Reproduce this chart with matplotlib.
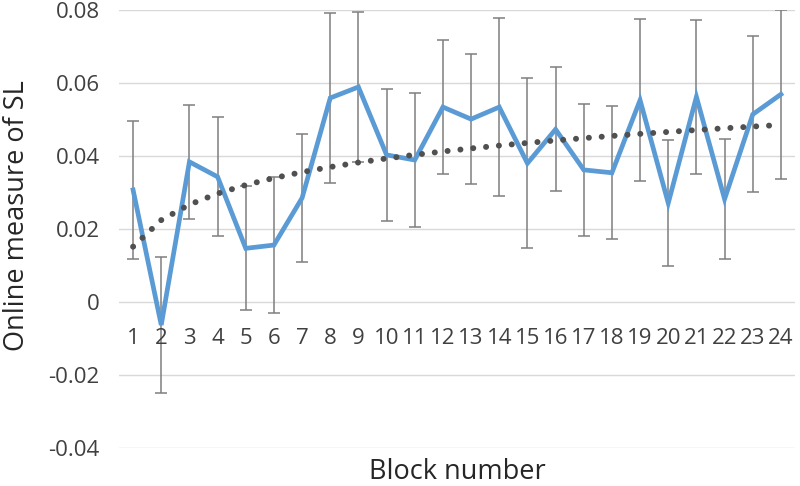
import numpy as np
import matplotlib
matplotlib.use("Agg")
import matplotlib.pyplot as plt

plt.rcParams['font.family'] = ['Open Sans', 'DejaVu Sans']

blocks = list(range(1, 25))
means = [0.0307, -0.0063, 0.0384, 0.0343, 0.0147, 0.0156, 0.0285, 0.0559,
         0.0589, 0.0403, 0.0389, 0.0534, 0.0501, 0.0534, 0.0380, 0.0473,
         0.0362, 0.0354, 0.0553, 0.0271, 0.0562, 0.0282, 0.0514, 0.0569]
errors = [0.0190, 0.0186, 0.0157, 0.0163, 0.0170, 0.0187, 0.0175, 0.0232,
          0.0205, 0.0180, 0.0184, 0.0183, 0.0178, 0.0244, 0.0233, 0.0170,
          0.0180, 0.0182, 0.0221, 0.0172, 0.0210, 0.0165, 0.0214, 0.0232]
yticks = [-0.04, -0.02, 0, 0.02, 0.04, 0.06, 0.08]
ytick_labels = ['-0.04', '-0.02', '0', '0.02', '0.04', '0.06', '0.08']

x = np.array(blocks)
y = np.array(means)

# logarithmic trendline like Excel
b, a = np.polyfit(np.log(x), y, 1)
trend = a + b * np.log(x)

fig = plt.figure(figsize=(8, 4.86), dpi=100)
ax = fig.add_axes([119/800, 1 - 448/486, 676/800, 438/486])

ax.errorbar(x, y, yerr=errors, fmt='none', ecolor='#7f7f7f', elinewidth=1.1,
            capsize=4.5, capthick=1.1, zorder=2)
ax.plot(x, y, color='#5b9bd5', lw=3.4, solid_joinstyle='miter', zorder=3)
ax.plot(x, trend, color='#505050', lw=4.3, linestyle=(0, (0.01, 2.15)),
        dash_capstyle='round', zorder=4)

ax.set_xlim(0.5, 24.5)
ax.set_ylim(-0.04, 0.08)
ax.set_yticks(yticks)
ax.set_yticklabels(ytick_labels)
ax.yaxis.grid(True, color='#d9d9d9', lw=1)
ax.set_axisbelow(True)
for s in ax.spines.values():
    s.set_visible(False)
ax.tick_params(axis='y', length=0, pad=14, labelsize=16, labelcolor='#404040')

# category labels sit just under the zero line
ax.set_xticks([])
for xi in blocks:
    ax.annotate(str(xi), (xi, 0), xytext=(0, -26), textcoords='offset pixels',
                ha='center', va='top', fontsize=16, color='#404040')

fig.text(17/800, 1 - 216/486, 'Online measure of SL', rotation=90,
         ha='center', va='center', fontsize=19.5, color='#262626')
fig.text(457/800, 1 - 472/486, 'Block number', ha='center', va='center',
         fontsize=19.5, color='#262626')

fig.savefig('out.png', dpi=100)
